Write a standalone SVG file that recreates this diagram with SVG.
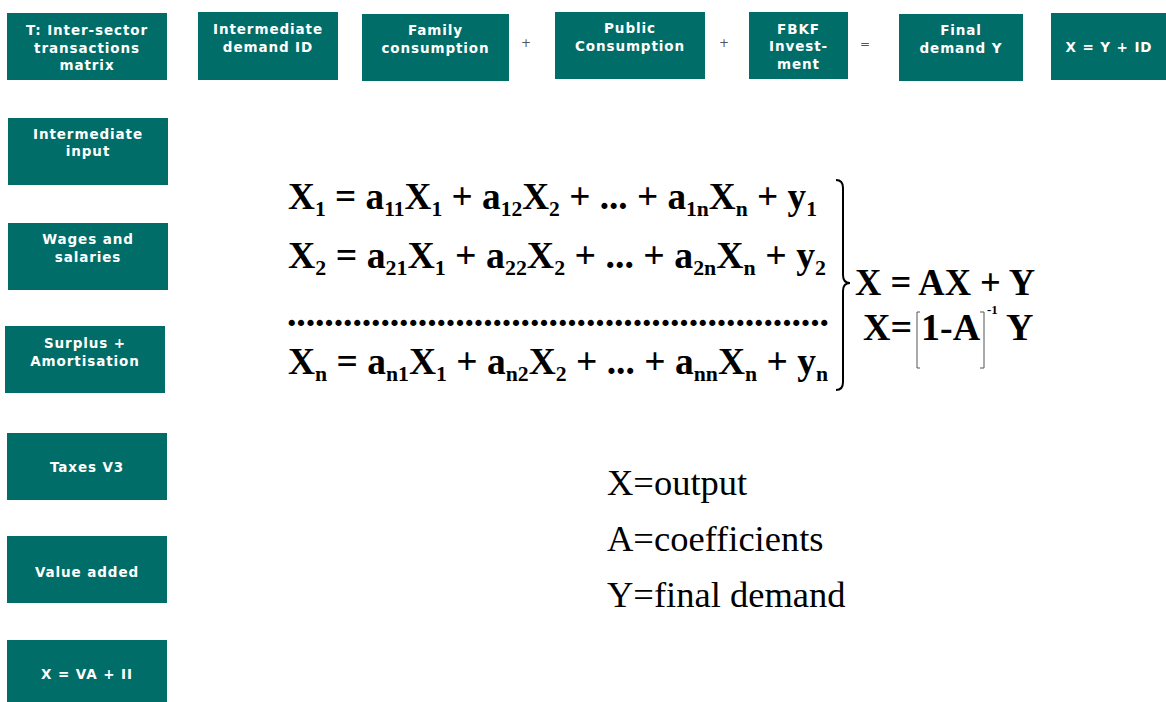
<svg xmlns="http://www.w3.org/2000/svg" width="1166" height="702" viewBox="0 0 1166 702">
<style>
.box{fill:#006D68}
.bt{font-family:"DejaVu Sans",Verdana,sans-serif;font-weight:bold;font-size:13.5px;letter-spacing:0.9px;fill:#ffffff;text-anchor:middle}
.op{font-family:"DejaVu Sans",Verdana,sans-serif;font-size:12px;fill:#555555;text-anchor:middle}
.eq{font-family:"Liberation Serif","Times New Roman",serif;font-weight:bold;font-size:38px;fill:#000000}
.sub{font-size:22px}
.leg{font-family:"Liberation Serif","Times New Roman",serif;font-size:36.5px;fill:#000000}
</style>
<rect width="1166" height="702" fill="#ffffff"/>
<g id="n-T"><rect class="box" x="7" y="13" width="160" height="67"/><text class="bt" x="87" y="35">T: Inter-sector</text><text class="bt" x="87" y="52.5">transactions</text><text class="bt" x="87" y="70">matrix</text></g>
<g id="n-ID"><rect class="box" x="198" y="12" width="140" height="68"/><text class="bt" x="268" y="34">Intermediate</text><text class="bt" x="268" y="52">demand ID</text></g>
<g id="n-family"><rect class="box" x="362" y="14" width="147" height="67"/><text class="bt" x="435.5" y="35">Family</text><text class="bt" x="435.5" y="53">consumption</text></g>
<g id="n-public"><rect class="box" x="555" y="12" width="150" height="67"/><text class="bt" x="630" y="33">Public</text><text class="bt" x="630" y="51">Consumption</text></g>
<g id="n-fbkf"><rect class="box" x="749" y="12" width="99" height="67"/><text class="bt" x="798.5" y="34">FBKF</text><text class="bt" x="798.5" y="51">Invest-</text><text class="bt" x="798.5" y="69">ment</text></g>
<g id="n-final"><rect class="box" x="899" y="14" width="124" height="67"/><text class="bt" x="961" y="35">Final</text><text class="bt" x="961" y="53">demand Y</text></g>
<g id="n-xyid"><rect class="box" x="1051" y="13" width="115" height="67"/><text class="bt" x="1109" y="52">X = Y + ID</text></g>
<g id="ops"><text class="op" x="526" y="47">+</text><text class="op" x="724" y="47">+</text><text class="op" x="865" y="48">=</text></g>
<g id="n-ii"><rect class="box" x="8" y="118" width="160" height="67"/><text class="bt" x="88" y="138.5">Intermediate</text><text class="bt" x="88" y="156">input</text></g>
<g id="n-wages"><rect class="box" x="8" y="223" width="160" height="67"/><text class="bt" x="88" y="244">Wages and</text><text class="bt" x="88" y="261.5">salaries</text></g>
<g id="n-surplus"><rect class="box" x="5" y="326" width="160" height="67"/><text class="bt" x="85" y="347.5">Surplus +</text><text class="bt" x="85" y="365.5">Amortisation</text></g>
<g id="n-taxes"><rect class="box" x="7" y="433" width="160" height="67"/><text class="bt" x="87" y="472">Taxes V3</text></g>
<g id="n-va"><rect class="box" x="7" y="536" width="160" height="67"/><text class="bt" x="87" y="576.5">Value added</text></g>
<g id="n-xva"><rect class="box" x="7" y="640" width="160" height="67"/><text class="bt" x="87" y="679">X = VA + II</text></g>
<g id="equations">
<text class="eq" x="288" y="209" textLength="529" lengthAdjust="spacingAndGlyphs">X<tspan class="sub" dy="7">1</tspan><tspan dy="-7"> = a</tspan><tspan class="sub" dy="7">11</tspan><tspan dy="-7">X</tspan><tspan class="sub" dy="7">1</tspan><tspan dy="-7"> + a</tspan><tspan class="sub" dy="7">12</tspan><tspan dy="-7">X</tspan><tspan class="sub" dy="7">2</tspan><tspan dy="-7"> + ... + a</tspan><tspan class="sub" dy="7">1n</tspan><tspan dy="-7">X</tspan><tspan class="sub" dy="7">n</tspan><tspan dy="-7"> + y</tspan><tspan class="sub" dy="7">1</tspan></text>
<text class="eq" x="288" y="268" textLength="538" lengthAdjust="spacingAndGlyphs">X<tspan class="sub" dy="7">2</tspan><tspan dy="-7"> = a</tspan><tspan class="sub" dy="7">21</tspan><tspan dy="-7">X</tspan><tspan class="sub" dy="7">1</tspan><tspan dy="-7"> + a</tspan><tspan class="sub" dy="7">22</tspan><tspan dy="-7">X</tspan><tspan class="sub" dy="7">2</tspan><tspan dy="-7"> + ... + a</tspan><tspan class="sub" dy="7">2n</tspan><tspan dy="-7">X</tspan><tspan class="sub" dy="7">n</tspan><tspan dy="-7"> + y</tspan><tspan class="sub" dy="7">2</tspan></text>
<text class="eq" x="287" y="326" textLength="542" lengthAdjust="spacing">..........................................................</text>
<text class="eq" x="288" y="374" textLength="540" lengthAdjust="spacingAndGlyphs">X<tspan class="sub" dy="7">n</tspan><tspan dy="-7"> = a</tspan><tspan class="sub" dy="7">n1</tspan><tspan dy="-7">X</tspan><tspan class="sub" dy="7">1</tspan><tspan dy="-7"> + a</tspan><tspan class="sub" dy="7">n2</tspan><tspan dy="-7">X</tspan><tspan class="sub" dy="7">2</tspan><tspan dy="-7"> + ... + a</tspan><tspan class="sub" dy="7">nn</tspan><tspan dy="-7">X</tspan><tspan class="sub" dy="7">n</tspan><tspan dy="-7"> + y</tspan><tspan class="sub" dy="7">n</tspan></text>
<path d="M836,180 Q843,180 843,188 L843,275 Q843,283 850,283 Q843,283 843,291 L843,382 Q843,390 836,390" fill="none" stroke="#000000" stroke-width="2"/>
<text class="eq" x="855" y="295" textLength="180" lengthAdjust="spacingAndGlyphs">X = AX + Y</text>
<text class="eq" x="863" y="340">X=</text>
<path d="M920,312 L917,312 L917,368 L920,368 M980,312 L984,312 L984,368 L980,368" fill="none" stroke="#555555" stroke-width="1"/>
<text class="eq" x="921" y="340">1-A</text>
<text class="eq" x="987" y="314" style="font-size:13px">-1</text>
<text class="eq" x="1006" y="340">Y</text>
</g>
<g id="legend">
<text class="leg" x="607" y="495">X=output</text>
<text class="leg" x="607" y="551">A=coefficients</text>
<text class="leg" x="607" y="607">Y=final demand</text>
</g>
</svg>
